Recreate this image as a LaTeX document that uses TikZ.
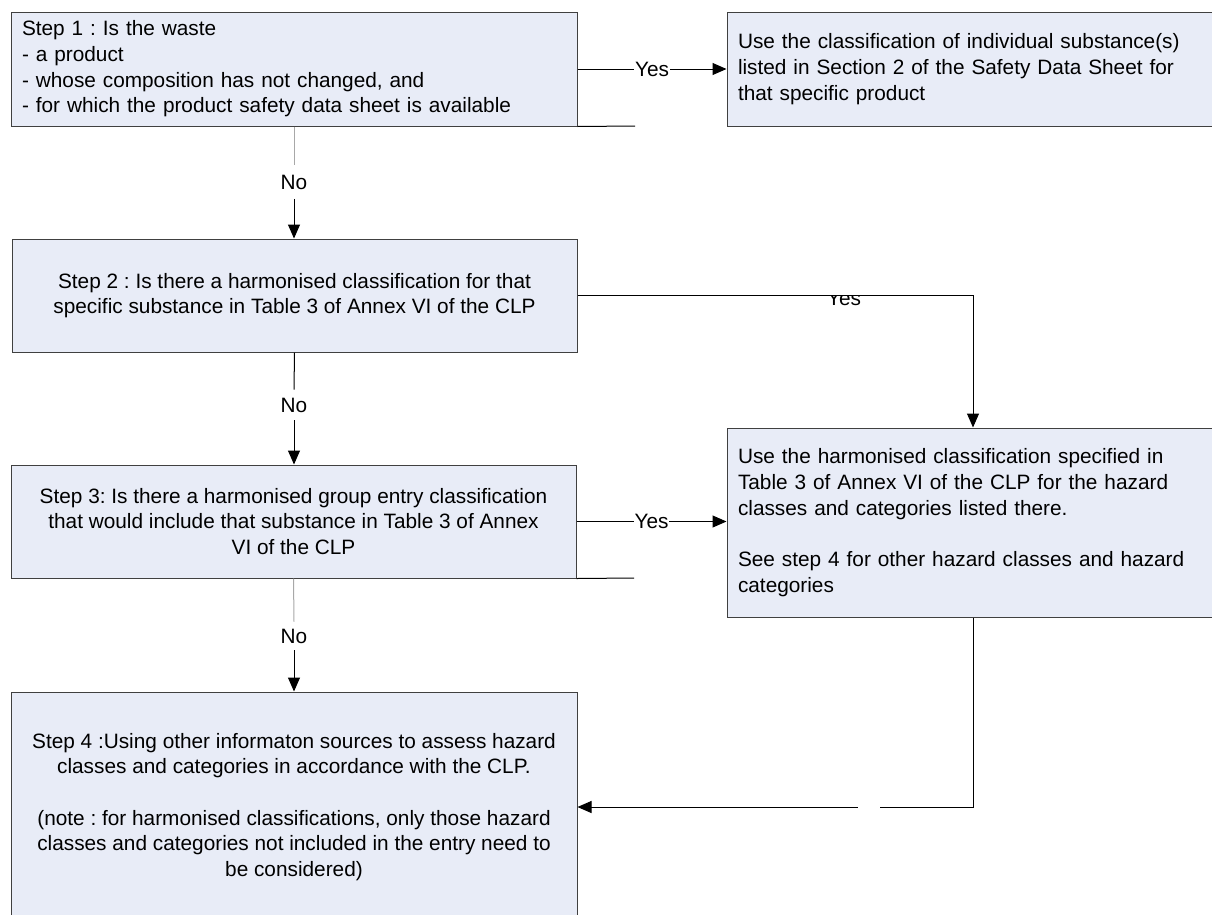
\documentclass[tikz,border=0pt]{standalone}
\usepackage{fontspec}
\setmainfont{Liberation Sans}
\usetikzlibrary{arrows.meta}
\definecolor{boxfill}{HTML}{E8ECF7}
\definecolor{boxline}{HTML}{404040}
\definecolor{lightline}{HTML}{A8A8A8}
\frenchspacing
\begin{document}
\begin{tikzpicture}[x=0.75pt,y=-0.75pt,
  every node/.style={font=\fontsize{15.6}{19.3}\selectfont},
  box/.style={draw=boxline, line width=0.75pt, fill=boxfill, inner xsep=8.25pt, inner ysep=0pt},
  lbox/.style={box, align=left},
  cbox/.style={box, align=center},
  lbl/.style={fill=white, inner xsep=0.5pt, inner ysep=1pt},
  nolbl/.style={inner sep=0pt},
  gapnode/.style={fill=white, inner sep=0pt, minimum width=16.5pt, minimum height=3pt},
  ln/.style={line width=0.75pt, draw=black},
  gln/.style={line width=0.75pt, draw=lightline},
  arr/.style={line width=0.75pt, draw=black, -{Triangle[length=10.5pt,width=9pt]}}]
\useasboundingbox (0,0) rectangle (1212,914);
\fill[white] (0,0) rectangle (1212,914);

% boxes
\node[lbox, text width=408pt, minimum height=85.5pt] (sA) at (294,69)
  {Step 1 : Is the waste\\- a product\\- whose composition has not changed, and\\- for which the product safety data sheet is available};
\node[lbox, text width=348pt, minimum height=85.5pt] (sB) at (970,69)
  {Use the classification of individual substance(s)\\listed in Section 2 of the Safety Data Sheet for\\that specific product};
\node[cbox, minimum width=423.75pt, minimum height=84.75pt] (s2) at (294.5,295.5)
  {Step 2 : Is there a harmonised classification for that\\specific substance in Table 3 of Annex VI of the CLP};
\node[cbox, minimum width=423.75pt, minimum height=84.75pt] (s3) at (293.5,521.5)
  {Step 3: Is there a harmonised group entry classification\\that would include that substance in Table 3 of Annex\\VI of the CLP};
\node[lbox, text width=352.5pt, minimum height=141.75pt] (sC) at (973,522.5)
  {Use the harmonised classification specified in\\Table 3 of Annex VI of the CLP for the hazard\\classes and categories listed there.\\[19.3pt]See step 4 for other hazard classes and hazard\\categories};
\node[cbox, minimum width=424.5pt, minimum height=172.5pt] (sD) at (294,807)
  {Step 4 :Using other informaton sources to assess hazard\\classes and categories in accordance with the CLP.\\[19.3pt](note : for harmonised classifications, only those hazard\\classes and categories not included in the entry need to\\be considered)};

% stray extension lines
\coordinate (extA) at (635,126);
\coordinate (ext3) at (634,578);
\draw[ln] (sA.south east) -- (extA);
\draw[ln] (s3.south east) -- (ext3);

% Yes connectors
\draw[arr] (sA.east) -- node[lbl] (yesA) {Yes} (sA.east -| sB.west);
\draw[arr] (s3.east) -- node[lbl] (yes3) {Yes} (s3.east -| sC.west);
\draw[arr] (s2.east) -| (sC.north);
\begin{scope}
  \clip (700,296) rectangle (1000,320);
  \node[inner sep=0pt, anchor=base] (yes2) at (844,305) {Yes};
\end{scope}

% No connectors
\node[nolbl, minimum height=24.75pt] (noA) at (294,182) {No};
\draw[gln] (sA.south) -- (noA.north);
\draw[arr] (noA.south) -- (noA.south |- s2.north);

\node[nolbl, minimum height=22.5pt] (no2) at (294,405) {No};
\draw[ln] (s2.south) -- (no2.north);
\draw[arr] (no2.south) -- (no2.south |- s3.north);

\node[nolbl, minimum height=21pt] (no3) at (294,636) {No};
\draw[gln] (s3.south) -- (no3.north);
\draw[arr] (no3.south) -- (no3.south |- sD.north);

% C to step 4
\draw[arr] (sC.south) |- node[gapnode, pos=0.631] (gapD) {} (sD.east);
\end{tikzpicture}
\end{document}
